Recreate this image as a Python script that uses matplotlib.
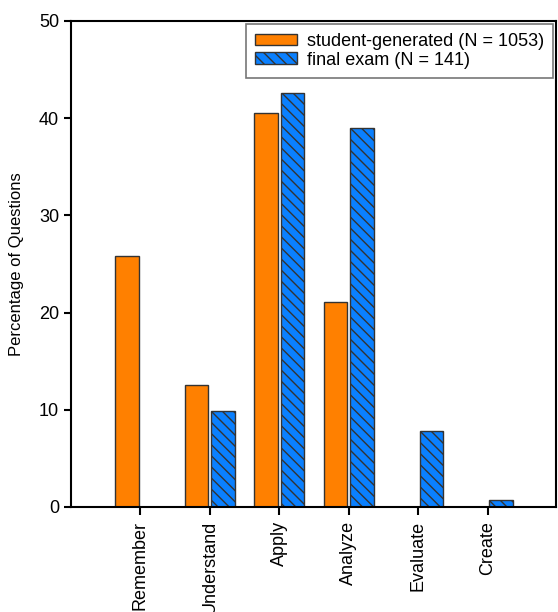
import numpy as np
import matplotlib
matplotlib.use('Agg')
import matplotlib.pyplot as plt

plt.rcParams['font.family'] = ['Liberation Sans', 'DejaVu Sans']
plt.rcParams['hatch.linewidth'] = 1.0

categories = ['Remember', 'Understand', 'Apply', 'Analyze', 'Evaluate', 'Create']
student = [25.8, 12.5, 40.5, 21.1, 0, 0]
final_exam = [0, 9.9, 42.6, 39.0, 7.8, 0.7]

fig = plt.figure(figsize=(5.58, 6.12), dpi=100)
ax = fig.add_axes([0.127, 0.1716, 0.869, 0.7941])

x = np.arange(len(categories))
w = 0.34
ax.bar(x - 0.19, student, w, color='#ff8000', edgecolor='#333333', linewidth=1,
       label='student-generated (N = 1053)')
ax.bar(x + 0.19, final_exam, w, color='#0a80ff', edgecolor='#333333', linewidth=1,
       hatch='\\\\\\', label='final exam (N = 141)')

ax.set_xlim(-1.0, 5.98)
ax.set_ylim(0, 50)
ax.set_yticks([0, 10, 20, 30, 40, 50])
ax.set_xticks(x)
ax.set_xticklabels(categories, rotation=90, fontsize=13)
ax.tick_params(axis='y', labelsize=13, direction='out', length=5, width=1.5)
ax.tick_params(axis='x', direction='out', length=6, width=1.5, pad=4)
ax.set_ylabel('Percentage of Questions', fontsize=12, labelpad=11)

for s in ax.spines.values():
    s.set_linewidth(1.5)

leg = ax.legend(loc='upper right', fontsize=13, frameon=True, fancybox=False,
                borderaxespad=0.15, handlelength=2.3, handleheight=0.6,
                labelspacing=0.1, borderpad=0.5, handletextpad=0.55)
leg.get_frame().set_edgecolor('#555555')
leg.get_frame().set_linewidth(1.2)

fig.savefig('out.png', dpi=100)
